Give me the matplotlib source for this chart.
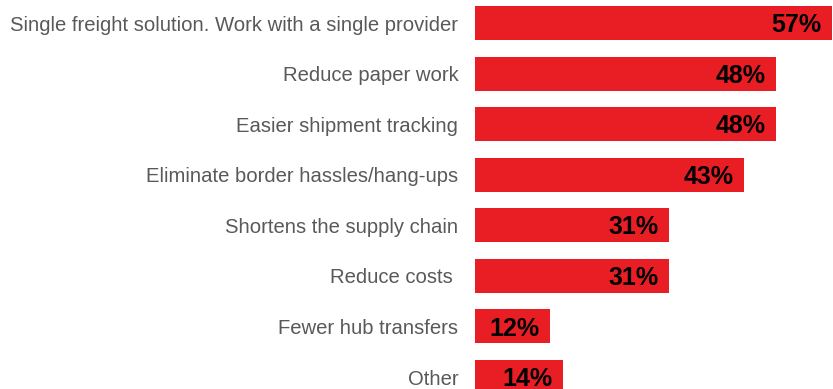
import matplotlib
matplotlib.use("Agg")
import matplotlib.pyplot as plt

# survey answers, top to bottom
reasons = [
    "Single freight solution. Work with a single provider",
    "Reduce paper work",
    "Easier shipment tracking",
    "Eliminate border hassles/hang-ups",
    "Shortens the supply chain",
    "Reduce costs ",
    "Fewer hub transfers",
    "Other",
]
shares = [57, 48, 48, 43, 31, 31, 12, 14]

bar_red = "#E91E25"
label_grey = "#58595B"

plt.rcParams["font.family"] = ["Liberation Sans", "DejaVu Sans"]

fig = plt.figure(figsize=(8.33, 3.89), dpi=100)
ax = fig.add_axes([475 / 833, 0, 357 / 833, 1])

pos = list(range(len(reasons)))
ax.barh(pos, shares, height=0.672, color=bar_red)

for p, v in zip(pos, shares):
    ax.annotate(f"{v}%", xy=(v, p), xytext=(-7.5, -1.5), textcoords="offset points",
                ha="right", va="center", fontsize=18, fontweight="bold", color="black")

ax.set_xlim(0, 57)
ax.set_ylim(7.237, -0.455)
ax.set_yticks(pos)
ax.set_yticklabels(reasons, fontsize=14.6, color=label_grey)
ax.tick_params(axis="y", length=0, pad=12)
ax.set_xticks([])
for s in ax.spines.values():
    s.set_visible(False)

fig.savefig("out.png", dpi=100)
